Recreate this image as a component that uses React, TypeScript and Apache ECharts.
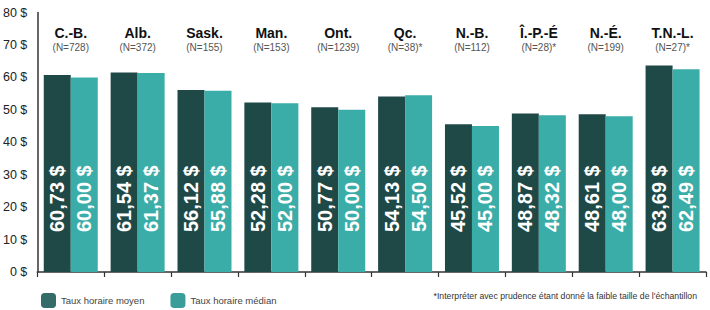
import React, { useEffect, useRef } from "react";
import * as echarts from "echarts";

const categories = ["C.-B.", "Alb.", "Sask.", "Man.", "Ont.", "Qc.", "N.-B.", "Î.-P.-É", "N.-É.", "T.N.-L."];
const sampleSizes = ["(N=728)", "(N=372)", "(N=155)", "(N=153)", "(N=1239)", "(N=38)*", "(N=112)", "(N=28)*", "(N=199)", "(N=27)*"];
const meanRate = [60.73, 61.54, 56.12, 52.28, 50.77, 54.13, 45.52, 48.87, 48.61, 63.69];
const medianRate = [60.0, 61.37, 55.88, 52.0, 50.0, 54.5, 45.0, 48.32, 48.0, 62.49];
const seriesNames = ["Taux horaire moyen", "Taux horaire médian"];
const footnote = "*Interpréter avec prudence étant donné la faible taille de l'échantillon";

const FONT = "'Liberation Sans', Arial, sans-serif";
const DARK = "#1f4947";
const TEAL = "#3badA8";

const fmt = (v: number) => v.toFixed(2).replace(".", ",") + " $";

export default function App() {
  const ref = useRef<HTMLDivElement>(null);
  useEffect(() => {
    if (!ref.current) return;
    const chart = echarts.init(ref.current, null, { renderer: "svg" });
    const barLabel = {
      show: true,
      position: "insideBottom",
      rotate: 90,
      align: "left",
      verticalAlign: "middle",
      distance: 40,
      color: "#ffffff",
      fontSize: 20,
      fontWeight: "bold",
      fontFamily: FONT,
      formatter: (p: any) => fmt(p.value),
    };
    chart.setOption({
      animation: false,
      grid: { left: 36, right: 4, top: 12.5, bottom: 38 },
      legend: {
        left: 36,
        top: 288,
        itemWidth: 15,
        itemHeight: 15,
        itemGap: 26,
        textStyle: { fontSize: 9.5, color: "#444", fontFamily: FONT },
        data: [
          { name: seriesNames[0], itemStyle: { color: "#356b68" } },
          { name: seriesNames[1], itemStyle: { color: "#3a9d99" } },
        ],
      },
      xAxis: [
        {
          type: "category",
          data: categories,
          position: "bottom",
          axisLine: { show: true, lineStyle: { color: "#333", width: 1.5 } },
          axisTick: { show: true, length: 5, lineStyle: { color: "#333", width: 1.2 } },
          axisLabel: { show: false },
        },
        {
          type: "category",
          data: categories,
          position: "top",
          axisLine: { show: false },
          axisTick: { show: false },
          axisLabel: {
            inside: true,
            interval: 0,
            margin: 12,
            fontFamily: FONT,
            formatter: (v: string, i: number) => `{a|${v}}\n{b|${sampleSizes[i]}}`,
            rich: {
              a: { fontSize: 14, fontWeight: "bold", color: "#111", lineHeight: 16, fontFamily: FONT },
              b: { fontSize: 10, color: "#555", lineHeight: 14, fontFamily: FONT },
            },
          },
        },
      ],
      yAxis: {
        type: "value",
        min: 0,
        max: 80,
        interval: 10,
        axisLine: { show: true, lineStyle: { color: "#333", width: 1.5 } },
        axisTick: { show: false },
        splitLine: { show: false },
        axisLabel: {
          margin: 10,
          fontSize: 12.5,
          color: "#222",
          fontFamily: FONT,
          formatter: (v: number) => `${v} $`,
        },
      },
      series: [
        {
          name: seriesNames[0],
          type: "bar",
          data: meanRate,
          barWidth: 27,
          barGap: "0%",
          itemStyle: { color: DARK },
          label: barLabel,
        },
        {
          name: seriesNames[1],
          type: "bar",
          data: medianRate,
          barWidth: 27,
          barGap: "0%",
          itemStyle: { color: TEAL },
          label: barLabel,
        },
      ],
      graphic: [
        {
          type: "text",
          right: 13,
          top: 291,
          style: { text: footnote, fontSize: 8.7, fill: "#333", fontFamily: FONT },
        },
      ],
    });
    return () => chart.dispose();
  }, []);
  return (
    <div
      ref={ref}
      style={{ position: "fixed", left: 0, top: 0, width: 710, height: 310, background: "#fff" }}
    />
  );
}
